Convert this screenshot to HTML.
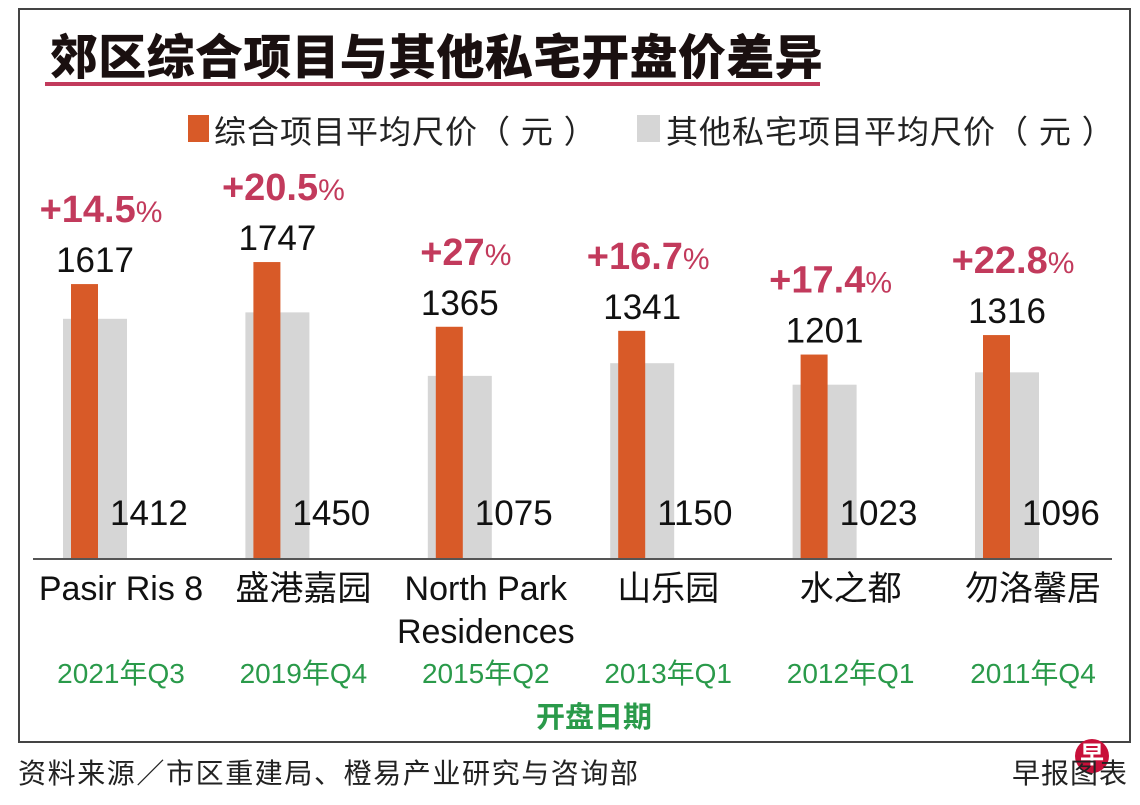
<!DOCTYPE html>
<html><head><meta charset="utf-8">
<style>
body{margin:0;width:1140px;height:805px;background:#fff;overflow:hidden;font-family:"Liberation Sans","Noto Sans CJK SC",sans-serif;}
#frame{position:absolute;left:18px;top:8px;width:1109px;height:731px;border:2px solid #444;}
.t{position:absolute;white-space:nowrap;}
</style></head><body>
<div id="frame"></div>
<div class="t" style="left:50px;top:18px;font-size:48px;font-weight:900;color:#1a1010;letter-spacing:0.3px;">郊区综合项目与其他私宅开盘价差异</div>
<div style="position:absolute;left:45px;top:82px;width:775px;height:4px;background:#c23a5c;"></div>
<div style="position:absolute;left:188px;top:115px;width:21px;height:27px;background:#d85a28;"></div>
<div class="t" style="left:214px;top:107px;font-size:32px;color:#222;letter-spacing:1px;">综合项目平均尺价（ 元 ）</div>
<div style="position:absolute;left:637px;top:115px;width:23px;height:27px;background:#d6d6d6;"></div>
<div class="t" style="left:666px;top:107px;font-size:32px;color:#222;letter-spacing:1px;">其他私宅项目平均尺价（ 元 ）</div>
<svg id="chart" width="1140" height="805" style="position:absolute;left:0;top:0"></svg>
<div class="t" style="left:536px;top:694px;font-size:29px;font-weight:bold;color:#2a9a4a;">开盘日期</div>
<div class="t" style="left:18px;top:752px;font-size:28px;color:#222;letter-spacing:1.6px;">资料来源／市区重建局、橙易产业研究与咨询部</div>
<div style="position:absolute;left:1075px;top:739px;width:34px;height:34px;border-radius:50%;background:#c8103a;color:#fff;font-size:24px;font-weight:bold;text-align:center;line-height:34px;">早</div>
<div class="t" style="left:1012px;top:752px;font-size:28px;color:#222;letter-spacing:1px;">早报图表</div>
<script>
const categories=["Pasir Ris 8","盛港嘉园","North Park|Residences","山乐园","水之都","勿洛馨居"];
const dates=["2021年Q3","2019年Q4","2015年Q2","2013年Q1","2012年Q1","2011年Q4"];
const integrated=[1617,1747,1365,1341,1201,1316];
const others=[1412,1450,1075,1150,1023,1096];
const diffs=["+14.5","+20.5","+27","+16.7","+17.4","+22.8"];
const svg=document.getElementById('chart');
const NS='http://www.w3.org/2000/svg';
const base=558, k=0.1694, x0=63, step=182.4;
const y=v=>base-v*k;
const gx=i=>x0+i*step;
function mk(tag,attrs,txt){const e=document.createElementNS(NS,tag);for(const a in attrs)e.setAttribute(a,attrs[a]);if(txt!==undefined)e.textContent=txt;svg.appendChild(e);return e;}
categories.forEach((c,i)=>{
  const g=gx(i);
  const r1=mk('rect',{x:g,y:y(others[i]),width:64,height:base-y(others[i]),fill:'#d6d6d6'});
  
  
  const r2=mk('rect',{x:g+8,y:y(integrated[i]),width:27,height:base-y(integrated[i]),fill:'#d85a28'});
  
  
  const t1=mk('text',{x:g+32,y:y(integrated[i])-12,'font-size':35,'text-anchor':'middle',fill:'#111','font-family':'Liberation Sans'},integrated[i]);
  
  
  const t2=mk('text',{x:g+47,y:525,'font-size':35,fill:'#111','font-family':'Liberation Sans'},others[i]);
  
  
  const p=mk('text',{x:g+38,y:y(integrated[i])-62,'text-anchor':'middle',fill:'#c23a5c','font-family':'Liberation Sans'});
  
  
  const s1=document.createElementNS(NS,'tspan');s1.setAttribute('font-size','38');s1.setAttribute('font-weight','bold');s1.textContent=diffs[i];p.appendChild(s1);
  const s2=document.createElementNS(NS,'tspan');s2.setAttribute('font-size','30');s2.textContent='%';p.appendChild(s2);
  const parts=c.split('|');
  parts.forEach((pt,j)=>{
    const cl=mk('text',{x:g+58,y:600+j*43,'font-size':34,'text-anchor':'middle',fill:'#111','font-family':'Liberation Sans, Noto Sans CJK SC, sans-serif'},pt);
    
    
  });
  const d=mk('text',{x:g+58,y:683,'font-size':28,'text-anchor':'middle',fill:'#2a9a4a','font-family':'Liberation Sans, Noto Sans CJK SC, sans-serif'},dates[i]);
  
  
});
const ax=mk('line',{x1:33,x2:1112,y1:base+1,y2:base+1,stroke:'#555','stroke-width':2});


</script>
</body></html>
